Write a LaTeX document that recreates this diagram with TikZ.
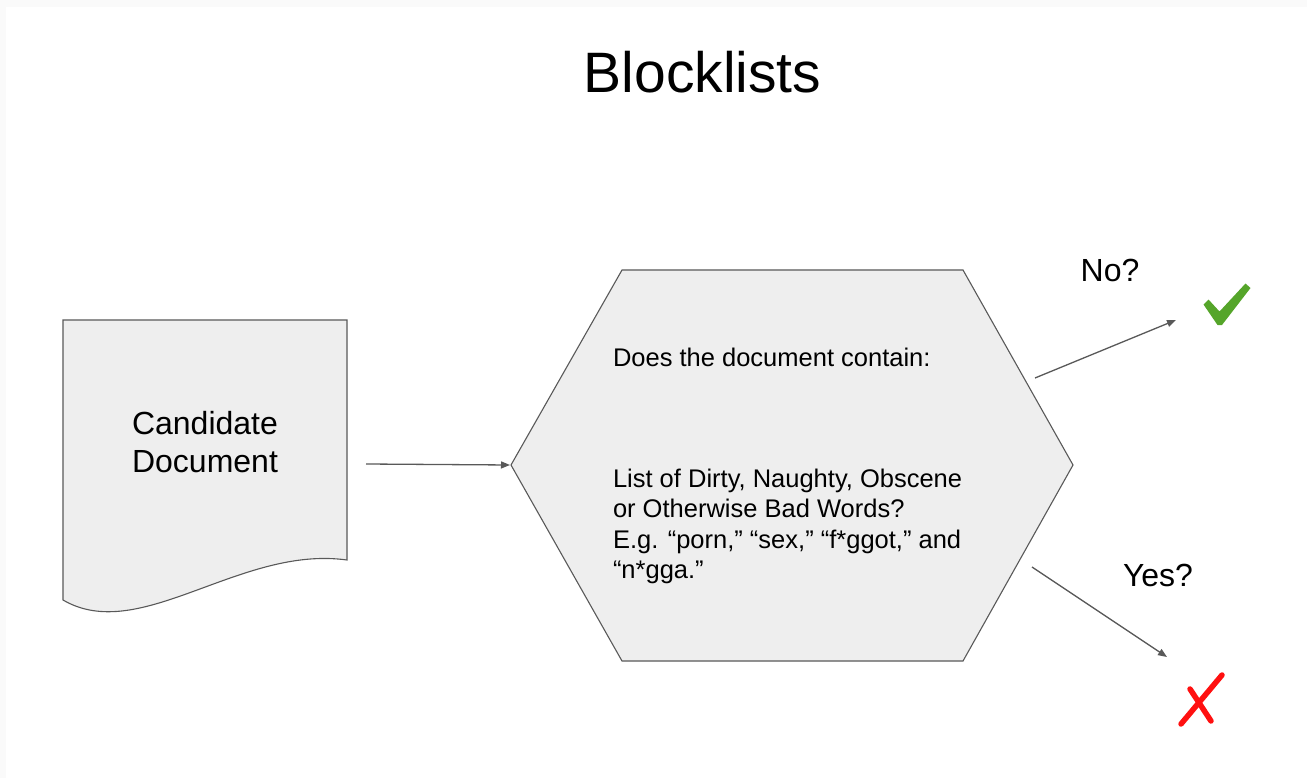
\documentclass[tikz,border=0pt]{standalone}
\usepackage{fontspec}
\setmainfont{Liberation Sans}
\usetikzlibrary{arrows.meta}
\definecolor{shapefill}{HTML}{EEEEEE}
\definecolor{shapeline}{HTML}{595959}
\definecolor{okgreen}{HTML}{55A52A}
\definecolor{badred}{HTML}{FF1010}
\definecolor{frame}{HTML}{FAFAFA}
\tikzset{
  shapebox/.style={fill=shapefill, draw=shapeline, line width=1.1pt, line join=miter},
  flow/.style={draw=shapeline, line width=1.3pt, -{Triangle[length=9pt,width=7pt]}},
  txt/.style={inner sep=0pt, outer sep=0pt, text=black},
}
\begin{document}
\begin{tikzpicture}[x=1pt, y=-1pt]
  % page and slide area
  \fill[frame] (0,0) rectangle (1307,778);
  \fill[white] (6,7) rectangle (1307,778);
  \useasboundingbox (0,0) rectangle (1307,778);

  % title
  \node[txt, anchor=base, font={\fontsize{57}{66}\selectfont}] (title) at (702.5,93) {Blocklists};

  % candidate document shape with wavy bottom edge
  \path[shapebox] (63,320) -- (347,320) -- (347,560)
    .. controls (240,545) and (140,645) .. (63,600) -- cycle;
  \node[txt, align=center, font={\fontsize{32}{38}\selectfont}] (doc) at (205,442)
    {Candidate\\Document};

  % decision hexagon
  \path[shapebox] (622,270) -- (963,270) -- (1073,465) -- (963,661)
    -- (622,661) -- (511,465) -- cycle;
  \node[txt, anchor=base west, font={\fontsize{25.5}{30}\selectfont}] (question) at (613,366)
    {Does the document contain:};
  \node[txt, anchor=north west, align=left, font={\fontsize{25.5}{30.5}\selectfont}] (list) at (613,469)
    {List of Dirty, Naughty, Obscene\\
     or Otherwise Bad Words?\\
     E.g. “porn,” “sex,” “f*ggot,” and\\
     “n*gga.”};

  % connector end points
  \coordinate (docout) at (366,464);
  \coordinate (hexin) at (510,465);
  \coordinate (hexno) at (1035,378);
  \coordinate (tono) at (1176,320);
  \coordinate (hexyes) at (1032,567);
  \coordinate (toyes) at (1167,657);

  \draw[flow] (docout) -- (hexin);
  \draw[flow] (hexno) -- (tono);
  \draw[flow] (hexyes) -- (toyes);

  % branch labels
  \node[txt, anchor=base, font={\fontsize{32}{36}\selectfont}] (nolabel) at (1110,282) {No?};
  \node[txt, anchor=base, font={\fontsize{32}{36}\selectfont}] (yeslabel) at (1158,586) {Yes?};

  % check mark
  \fill[okgreen] (1203.5,304.5) -- (1208.5,299.5) -- (1219.5,311.5)
    -- (1245.5,283.5) -- (1250.5,288) -- (1222,325) -- (1217.5,325) -- cycle;

  % cross mark
  \draw[badred, line width=5.5pt, line cap=round]
    (1222,675) -- (1181,724)
    (1190,689) -- (1211,721);
\end{tikzpicture}
\end{document}
